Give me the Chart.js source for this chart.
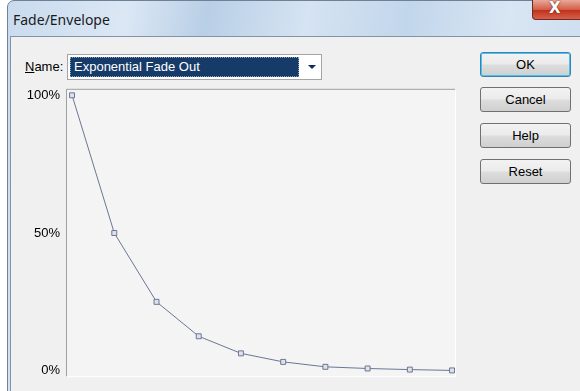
<!DOCTYPE html>
<html>
<head>
<meta charset="utf-8">
<script src="https://cdn.jsdelivr.net/npm/chart.js@4"></script>
<style>
    html, body { margin: 0; padding: 0; background: #ffffff; }
    body { width: 580px; height: 391px; position: relative; overflow: hidden; font-family: "Liberation Sans", Arial, sans-serif; font-size: 13px; color: #000; }
    .frame { position: absolute; left: 7px; top: 0; width: 600px; height: 400px; border-top-left-radius: 7px; border: 1px solid #6f8196; background: linear-gradient(100deg, #c9dbee 0%, #dbe7f4 18%, #b9cfe6 30%, #d5e3f2 45%, #c2d6eb 60%, #d8e5f3 75%, #c6d9ec 100%); }
    .title { position: absolute; left: 13px; top: 10px; font-family: "Noto Sans", "Open Sans", sans-serif; font-size: 14px; color: #1b1b1b; }
    .close { position: absolute; left: 532px; top: 0; width: 48px; height: 19px; border: 1px solid #6b2d22; border-top: none; border-bottom-left-radius: 4px; background: linear-gradient(#e9a99b 0%, #d45e47 50%, #c2331b 55%, #d6604a 100%); }
    .close span { position: absolute; left: 16px; top: -1px; font-family: "DejaVu Sans", sans-serif; font-weight: bold; font-size: 15px; color: #fff; text-shadow: 0 0 2px #5a1a10; }
    .client { position: absolute; left: 10px; top: 36px; width: 600px; height: 400px; border: 1px solid #8293a6; background: #f0f0f0; }
    .label { position: absolute; left: 25px; top: 59px; }
    .combo { position: absolute; left: 67px; top: 54px; width: 255px; height: 26px; background: #fff; border: 1px solid #a4a4a4; box-sizing: border-box; }
    .combo .sel { position: absolute; left: 2px; top: 2px; width: 229px; height: 20px; background: #163b69; border: 1px dotted #8a9ec0; box-sizing: border-box; color: #fff; padding-left: 3px; line-height: 18px; }
    .combo .arrow { position: absolute; left: 240px; top: 10px; width: 0; height: 0; border-left: 4px solid transparent; border-right: 4px solid transparent; border-top: 4px solid #0f2a5c; }
    .btn { position: absolute; left: 480px; width: 91px; height: 25px; box-sizing: border-box; border: 1px solid #707070; border-radius: 3px; background: linear-gradient(#f2f2f2 0%, #ebebeb 48%, #dddddd 52%, #cfcfcf 100%); text-align: center; line-height: 23px; }
    .btn.def { border-color: #3c7fb1; box-shadow: inset 0 0 0 1px #48c3f0; }
    #plot { position: absolute; left: 12px; top: 75px; }
</style>
</head>
<body>
<div class="frame"></div>
<div class="title">Fade/Envelope</div>
<div class="close"><span>X</span></div>
<div class="client"></div>
<div class="label"><u>N</u>ame:</div>
<div class="combo"><div class="sel">Exponential Fade Out</div><div class="arrow"></div></div>
<div class="btn def" style="top:52px">OK</div>
<div class="btn" style="top:87px">Cancel</div>
<div class="btn" style="top:123px">Help</div>
<div class="btn" style="top:159px">Reset</div>
<canvas id="plot" width="448" height="316"></canvas>
<script>
// envelope points
const stepIndex = [0, 1, 2, 3, 4, 5, 6, 7, 8, 9];
const fadeLevels = [100, 50, 25, 12.5, 6.3, 3.2, 1.4, 0.8, 0.4, 0.1];
const levelTicks = [0, 50, 100];

const lineColor = '#6b7793';

// plot box: grey on top/left, white on right/bottom
const frameBox = {
    id: 'frameBox',
    beforeDraw: (chart) => {
        const { ctx, chartArea: a } = chart;
        ctx.save();
        ctx.fillStyle = '#f4f4f4';
        ctx.fillRect(a.left, a.top, a.right - a.left, a.bottom - a.top);
        ctx.lineWidth = 1;
        ctx.strokeStyle = '#a0a0a0';
        ctx.beginPath();
        ctx.moveTo(a.left - 0.5, a.bottom);
        ctx.lineTo(a.left - 0.5, a.top - 0.5);
        ctx.lineTo(a.right, a.top - 0.5);
        ctx.stroke();
        ctx.strokeStyle = '#ffffff';
        ctx.beginPath();
        ctx.moveTo(a.right + 0.5, a.top);
        ctx.lineTo(a.right + 0.5, a.bottom + 0.5);
        ctx.lineTo(a.left, a.bottom + 0.5);
        ctx.stroke();
        ctx.restore();
    }
};

const envelopeChart = new Chart(document.getElementById('plot'), {
    type: 'line',
    data: {
        datasets: [{
            data: stepIndex.map((s, i) => ({ x: s, y: fadeLevels[i] })),
            borderColor: lineColor,
            borderWidth: 1,
            pointStyle: 'rect',
            pointRadius: 3.5,
            pointBorderWidth: 1,
            pointBorderColor: lineColor,
            pointBackgroundColor: '#dfe2ea',
            tension: 0
        }]
    },
    options: {
        responsive: false,
        animation: false,
        layout: { padding: { top: 5, right: 2, bottom: 1, left: 0 } },
        plugins: { legend: { display: false }, tooltip: { enabled: false } },
        scales: {
            x: { type: 'linear', min: -0.12, max: 9.07, display: false },
            y: {
                min: -2,
                max: 102,
                afterFit: (scale) => { scale.width = 55; },
                afterBuildTicks: (scale) => { scale.ticks = levelTicks.map(v => ({ value: v })); },
                grid: { display: false, drawTicks: false },
                border: { display: false },
                ticks: {
                    padding: 7,
                    color: '#000',
                    font: { family: 'Liberation Sans', size: 13 },
                    callback: (v) => v + '%'
                }
            }
        }
    },
    plugins: [frameBox]
});
</script>
</body>
</html>
